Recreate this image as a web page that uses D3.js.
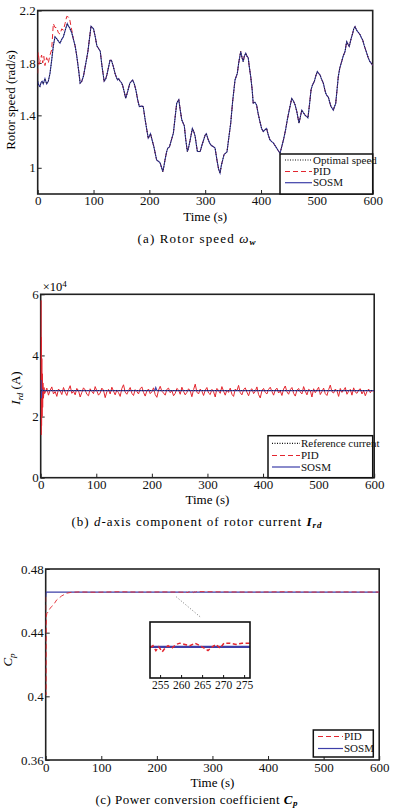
<!DOCTYPE html>
<html><head><meta charset="utf-8">
<script src="https://cdn.jsdelivr.net/npm/d3@7"></script>
<style>
body{margin:0;background:#fff;}
svg{display:block;font-family:"Liberation Serif","Times New Roman",serif;}
</style></head>
<body><svg id="c" width="393" height="810"></svg>
<script>
// ---------- (a) Rotor speed ----------
const speedTicksX = [0,100,200,300,400,500,600];
const speedTicksY = [1,1.4,1.8,2.2];
const speedSOSM = [
[0,1.66],[2,1.63],[4,1.62],[6,1.65],[8,1.66],[10,1.64],[13,1.68],[16,1.64],[19,1.66],[22,1.72],[25,1.82],[28,1.93],[31,2.0],[33,1.99],[35,1.98],[38,1.96],[40,1.95],[43,1.98],[46,2.0],[50,2.06],[53,2.1],[55,2.08],[57,2.07],[59,2.05],[61,2.03],[64,1.98],[67,1.93],[69,1.88],[71,1.82],[74,1.72],[76,1.645],[79,1.66],[82,1.70],[85,1.77],[88,1.84],[90,1.89],[92,1.96],[95.5,2.08],[98,2.07],[100,2.06],[103,2.0],[106,1.93],[109,1.91],[112,1.89],[115,1.78],[119,1.66],[122,1.68],[124,1.71],[127,1.77],[129.5,1.82],[132,1.82],[135,1.78],[138.5,1.72],[141,1.69],[143,1.67],[145,1.68],[147.5,1.66],[150,1.65],[152,1.63],[155,1.58],[157.6,1.53],[161,1.58],[165,1.645],[168,1.66],[170,1.67],[173,1.64],[176,1.59],[179,1.52],[182,1.467],[186,1.47],[189,1.467],[192,1.38],[195,1.30],[198,1.226],[200,1.24],[202,1.26],[205,1.21],[208,1.162],[211,1.10],[213,1.06],[216,1.05],[219,1.04],[222,1.0],[224,0.971],[226,1.01],[228,1.06],[231,1.124],[233,1.15],[236,1.16],[240,1.22],[243,1.264],[246,1.38],[249,1.493],[252.7,1.52],[255,1.45],[258,1.366],[262.6,1.32],[265,1.22],[268,1.124],[270,1.15],[273,1.21],[277,1.30],[280,1.27],[282,1.24],[284,1.18],[286,1.124],[291,1.124],[294,1.17],[297,1.21],[300,1.25],[302,1.26],[305,1.22],[308,1.188],[311,1.17],[315,1.16],[317.7,1.15],[321,1.06],[324,0.99],[326.6,0.96],[329,1.02],[333.7,1.10],[336,1.11],[339,1.12],[342,1.22],[345.7,1.34],[349,1.50],[353.4,1.67],[357.5,1.72],[360,1.80],[363.6,1.887],[366,1.84],[368,1.81],[370,1.85],[372.6,1.875],[375,1.85],[377,1.84],[379,1.77],[381.5,1.696],[384,1.60],[386,1.493],[389,1.50],[392,1.48],[395,1.41],[398,1.353],[401,1.30],[404,1.276],[407,1.29],[410,1.30],[413,1.25],[416,1.213],[419,1.20],[422,1.19],[425,1.17],[428,1.15],[431,1.13],[434,1.11],[437,1.16],[440,1.21],[444,1.29],[447,1.366],[451,1.45],[455,1.53],[458,1.51],[461,1.48],[464,1.43],[468,1.34],[471,1.40],[473,1.44],[476,1.42],[479,1.40],[482,1.39],[484,1.38],[487,1.49],[489.6,1.595],[492,1.63],[495.5,1.66],[498,1.70],[500.8,1.735],[503,1.72],[505.6,1.71],[508,1.68],[511.6,1.645],[514,1.60],[515.8,1.57],[518,1.55],[520.5,1.54],[523,1.50],[525.3,1.467],[528,1.45],[529.5,1.44],[531,1.46],[533.7,1.49],[536,1.59],[538.4,1.696],[541,1.76],[544.4,1.81],[547,1.85],[550.4,1.887],[553.4,1.963],[556,1.94],[558,1.925],[561,1.98],[564.2,2.027],[566,2.06],[568.4,2.078],[570,2.06],[572.6,2.04],[575,2.03],[577.4,2.015],[580,1.99],[582,1.976],[585,1.93],[589.3,1.875],[592,1.84],[595,1.81],[597,1.80],[600,1.78]
];
const speedPIDstart = [
[0,1.72],[0.8,1.88],[2,1.84],[3,1.79],[5,1.83],[7,1.86],[9,1.80],[11,1.85],[13,1.78],[16,1.84],[19,1.80],[22,1.86],[25,1.90],[28,2.10],[31,2.07],[34,2.07],[37,2.03],[40,2.02],[43,2.06],[46,2.05],[49,2.10],[52,2.155],[55,2.15],[57,2.14],[60,2.07],[62,2.03]
];
// ---------- (b) Rotor current (x10^4 A) ----------
const curTicksX = [0,100,200,300,400,500,600];
const curTicksY = [0,2,4,6];
const curRef = 2.85;
const curSOSM = [[0,2.85],[0.6,3.2],[1.2,2.6],[2,2.9],[3,2.85],[205,2.85],[207,2.95],[209,2.85],[600,2.85]];
const curPIDstart = [[0,2.85],[0.4,5.8],[0.8,1.4],[1.2,4.6],[1.6,1.7],[2,3.9],[2.5,2.0],[3,3.4],[3.5,2.3],[4,3.1],[5,2.6],[6,2.95],[7,2.75]];
const curPIDnoise = [
2.78,2.93,2.70,2.86,2.97,2.74,2.82,2.66,2.90,2.84,2.72,2.95,2.80,2.69,2.88,3.01,2.76,2.83,2.71,2.92,
2.85,2.64,2.79,2.94,2.87,2.73,2.68,2.91,2.82,2.75,2.98,2.84,2.70,2.77,2.93,2.86,2.62,2.81,2.89,2.74,
2.96,2.83,2.71,2.87,2.78,2.66,2.92,3.04,2.80,2.73,2.85,2.95,2.76,2.69,2.88,2.82,2.74,2.91,2.97,2.79,
2.67,2.84,2.90,2.75,2.81,2.94,2.72,2.63,2.86,2.99,2.83,2.77,2.70,2.89,2.93,2.78,2.85,2.68,2.76,2.92,
2.87,2.73,2.96,2.82,2.71,2.79,2.91,2.84,2.65,2.88,3.06,2.80,2.74,2.90,2.83,2.69,2.86,2.95,2.77,2.72,
2.89,2.81,2.64,2.92,2.85,2.76,2.98,2.83,2.70,2.87,2.79,2.93,2.73,2.66,2.90,2.84,3.02,2.78,2.71,2.88,
2.94,2.80,2.68,2.86,2.91,2.75,2.83,2.97,2.72,2.61,2.85,2.92,2.79,2.74,2.89,2.96,2.82,2.70,2.87,2.93,
2.77,2.84,2.69,2.90,3.00,2.81,2.73,2.88,2.95,2.76,2.67,2.86,2.92,2.80,2.74,2.98,2.83,2.71,2.89,2.85,
2.64,2.91,2.78,2.87,2.96,2.72,2.82,2.93,2.75,2.69,2.88,3.03,2.81,2.77,2.90,2.84,2.66,2.92,2.79,2.86,
2.95,2.73,2.83,2.89,2.70,2.94,2.80,2.76,2.87,2.91,2.74,2.85,2.68,2.82,2.90,2.78,2.86,2.81
];
const curPIDtimes = curPIDnoise.map((v,i)=>8+i*3);
// ---------- (c) Power coefficient ----------
const cpTicksX = [0,100,200,300,400,500,600];
const cpTicksY = [0.36,0.4,0.44,0.48];
const cpSOSM = [[0,0.4625],[0.6,0.4652],[1.5,0.4655],[600,0.4655]];
const cpPID = [
[0,0.4625],[0.4,0.401],[0.9,0.445],[1.4,0.4505],[2,0.452],[4.7,0.4532],[7.7,0.4553],[13.8,0.4574],[19.8,0.4606],[28.8,0.4631],[37.8,0.4648],[46.8,0.4654],[60,0.4656],[90,0.4654],[130,0.4657],[170,0.4655],[210,0.4656],[240,0.4655],
[252.6,0.4654],[253.3,0.4656],[254.0,0.4652],[254.7,0.4655],[255.5,0.4651],[256.2,0.4654],[256.9,0.4656],[257.8,0.4654],[258.8,0.4657],[259.7,0.4658],[260.9,0.4657],[262.1,0.4656],[263.3,0.4658],[264.5,0.4656],[265.5,0.4654],[266.4,0.4652],[267.4,0.4655],[268.3,0.4657],[269.3,0.4654],[270.2,0.4658],[271.6,0.4658],[273.1,0.4657],[274.5,0.4658],[275.9,0.4658],[277,0.4658],
[320,0.4656],[380,0.4655],[430,0.4657],[480,0.4655],[540,0.4656],[600,0.4655]
];
const insetTicks = [255,260,265,270,275];

const RED = "#e3262f", BLUE = "#3d3fa8";
const svg = d3.select("#c");

function frame(opts){
  const g = svg.append("g").attr("transform",`translate(${opts.left},${opts.top})`);
  const x = d3.scaleLinear().domain(opts.xd).range([0,opts.w]);
  const y = d3.scaleLinear().domain(opts.yd).range([opts.h,0]);
  const cp = "clip"+opts.id;
  svg.append("clipPath").attr("id",cp).append("rect").attr("x",opts.left).attr("y",opts.top).attr("width",opts.w).attr("height",opts.h);
  const plot = svg.append("g").attr("clip-path",`url(#${cp})`).append("g").attr("transform",`translate(${opts.left},${opts.top})`);
  const ax = g.append("g").attr("transform",`translate(0,${opts.h})`)
    .call(d3.axisBottom(x).tickValues(opts.tx).tickSize(-4).tickPadding(opts.xpad||2).tickFormat(d=>d));
  const ay = g.append("g").call(d3.axisLeft(y).tickValues(opts.ty).tickSize(-4).tickPadding(2).tickFormat(opts.fy||(d=>d)));
  [ax,ay].forEach(a=>{a.select(".domain").remove();a.selectAll("line").attr("stroke","#222");a.selectAll("text").attr("font-size",13).attr("font-family","Liberation Serif").attr("fill","#111");});
  ax.selectAll("text").attr("dy","0.71em");
  return {g,plot,x,y};
}
function box(o){
  o.g.append("rect").attr("x",0).attr("y",0).attr("width",o.x.range()[1]).attr("height",o.y.range()[0]).attr("fill","none").attr("stroke","#222").attr("stroke-width",1.6);
}
function legend(x0,y0,w,h, items){
  const lg = svg.append("g");
  lg.append("rect").attr("x",x0).attr("y",y0).attr("width",w).attr("height",h).attr("fill","#fff").attr("stroke","#111").attr("stroke-width",1.5);
  items.forEach(it=>{
    lg.append("line").attr("x1",it.lx1).attr("x2",it.lx2).attr("y1",it.y).attr("y2",it.y).attr("stroke",it.c).attr("stroke-width",it.sw||1.2).attr("stroke-dasharray",it.da||null);
    lg.append("text").attr("x",it.lx2+1).attr("y",it.y+3.5).attr("font-size",11).attr("fill","#111").text(it.t);
  });
}
function caption(y,len){
  const t = svg.append("text").attr("x",196.5).attr("y",y).attr("text-anchor","middle").attr("font-size",13);
  if(len) t.attr("textLength",len).attr("lengthAdjust","spacing");
  return t;
}

// ===== Panel (a)
{
  const o = frame({id:"a",left:37.7,top:10.5,w:335,h:183.5,xd:[0,600],yd:[0.8,2.2],tx:speedTicksX,ty:speedTicksY});
  const line = d3.line().x(d=>o.x(d[0])).y(d=>o.y(d[1]));
  const pid = speedPIDstart.concat(speedSOSM.filter(d=>d[0]>62));
  o.plot.append("path").attr("d",line(pid)).attr("fill","none").attr("stroke",RED).attr("stroke-width",1).attr("stroke-dasharray","5,3");
  o.plot.append("path").attr("d",line(speedSOSM)).attr("fill","none").attr("stroke",BLUE).attr("stroke-width",1.1);
  o.plot.append("path").attr("d",line(speedSOSM)).attr("fill","none").attr("stroke","#111").attr("stroke-width",0.9).attr("stroke-dasharray","1,1.6");
  box(o);
  o.g.append("text").attr("x",o.x(300)).attr("y",210.5).attr("text-anchor","middle").attr("font-size",13).text("Time (s)");
  svg.append("text").attr("transform","translate(15,100) rotate(-90)").attr("text-anchor","middle").attr("font-size",13).text("Rotor speed (rad/s)");
  legend(280,154,92.7,40,[
    {t:"Optimal speed",y:160,lx1:285,lx2:312,c:"#111",da:"1,1.5"},
    {t:"PID",y:171.5,lx1:285,lx2:312,c:RED,da:"5,3"},
    {t:"SOSM",y:182.7,lx1:285,lx2:312,c:BLUE}
  ]);
  const cap = caption(243,118);
  cap.append("tspan").text("(a) Rotor speed ");
  cap.append("tspan").attr("font-style","italic").text("ω");
  cap.append("tspan").attr("font-style","italic").attr("font-weight","bold").attr("font-size",9).attr("dy",2).text("w");
}
// ===== Panel (b)
{
  const o = frame({id:"b",left:40.7,top:294.3,w:333.5,h:183.4,xd:[0,600],yd:[0,6],tx:curTicksX,ty:curTicksY});
  const line = d3.line().x(d=>o.x(d[0])).y(d=>o.y(d[1]));
  const pid = curPIDstart.concat(curPIDnoise.map((v,i)=>[curPIDtimes[i],v]));
  o.plot.append("path").attr("d",line(pid)).attr("fill","none").attr("stroke",RED).attr("stroke-width",1);
  o.plot.append("path").attr("d",line(curSOSM)).attr("fill","none").attr("stroke",BLUE).attr("stroke-width",1.2);
  o.plot.append("path").attr("d",line([[0,curRef],[600,curRef]])).attr("fill","none").attr("stroke","#111").attr("stroke-width",0.8).attr("stroke-dasharray","1,1.6");
  box(o);
  const m = o.g.append("text").attr("x",2).attr("y",-3).attr("font-size",12.5);
  m.append("tspan").text("×10");
  m.append("tspan").attr("font-size",9).attr("dy",-4).text("4");
  o.g.append("text").attr("x",o.x(300)).attr("y",210).attr("text-anchor","middle").attr("font-size",13).text("Time (s)");
  const yl = svg.append("text").attr("transform","translate(20,388) rotate(-90)").attr("text-anchor","middle").attr("font-size",13);
  yl.append("tspan").attr("font-style","italic").text("I");
  yl.append("tspan").attr("font-style","italic").attr("font-size",9).attr("dy",3).text("rd");
  yl.append("tspan").attr("dy",-3).text(" (A)");
  legend(268,435.7,104.7,42,[
    {t:"Reference current",y:443.3,lx1:272,lx2:300,c:"#111",da:"1,1.5"},
    {t:"PID",y:455.5,lx1:272,lx2:300,c:RED,da:"5,3"},
    {t:"SOSM",y:467,lx1:272,lx2:300,c:BLUE}
  ]);
  const cap = caption(526,250);
  cap.append("tspan").text("(b) ");
  cap.append("tspan").attr("font-style","italic").text("d");
  cap.append("tspan").text("-axis component of rotor current ");
  cap.append("tspan").attr("font-style","italic").attr("font-weight","bold").text("I");
  cap.append("tspan").attr("font-style","italic").attr("font-weight","bold").attr("font-size",9).attr("dy",2).text("rd");
}
// ===== Panel (c)
{
  const o = frame({id:"c",left:45.7,top:569,w:333.5,h:191,xd:[0,600],yd:[0.36,0.48],tx:cpTicksX,ty:cpTicksY,fy:d3.format(".2~f"),xpad:3});
  const line = d3.line().x(d=>o.x(d[0])).y(d=>o.y(d[1]));
  o.plot.append("path").attr("d",line(cpSOSM)).attr("fill","none").attr("stroke",BLUE).attr("stroke-width",1.2);
  o.plot.append("path").attr("d",line(cpPID)).attr("fill","none").attr("stroke",RED).attr("stroke-width",1).attr("stroke-dasharray","5,3").attr("stroke-opacity",0.9);
  box(o);
  o.g.append("line").attr("x1",o.x(235)).attr("y1",o.y(0.4625)).attr("x2",o.x(278)).attr("y2",o.y(0.4499))
    .attr("stroke","#777").attr("stroke-width",1).attr("stroke-dasharray","1,2");
  // inset
  const ix = d3.scaleLinear().domain([252.6,276.4]).range([150,250]);
  const iy = d3.scaleLinear().domain([0.4630,0.4675]).range([678,622]);
  svg.append("clipPath").attr("id","clipi").append("rect").attr("x",150).attr("y",622).attr("width",100).attr("height",56);
  svg.append("rect").attr("x",150).attr("y",622).attr("width",100).attr("height",56).attr("fill","#fff");
  const il = d3.line().x(d=>ix(d[0])).y(d=>iy(d[1]));
  const ip = svg.append("g").attr("clip-path","url(#clipi)");
  ip.append("path").attr("d",il(cpSOSM)).attr("fill","none").attr("stroke",BLUE).attr("stroke-width",2.4);
  ip.append("path").attr("d",il(cpPID)).attr("fill","none").attr("stroke",RED).attr("stroke-width",1.5).attr("stroke-dasharray","4,2.5");
  const iax = svg.append("g").attr("transform","translate(0,678)").call(d3.axisBottom(ix).tickValues(insetTicks).tickSize(-3).tickPadding(3));
  iax.select(".domain").remove();
  iax.selectAll("line").attr("stroke","#111");
  iax.selectAll("text").attr("font-size",11.5).attr("font-family","Liberation Serif").attr("fill","#111");
  svg.append("rect").attr("x",150).attr("y",622).attr("width",100).attr("height",56).attr("fill","none").attr("stroke","#111").attr("stroke-width",1.6);
  o.g.append("text").attr("x",o.x(300)).attr("y",217.5).attr("text-anchor","middle").attr("font-size",13).text("Time (s)");
  const yl = svg.append("text").attr("transform","translate(12,660) rotate(-90)").attr("text-anchor","middle").attr("font-size",13);
  yl.append("tspan").attr("font-style","italic").text("C");
  yl.append("tspan").attr("font-style","italic").attr("font-size",9).attr("dy",3).text("p");
  legend(313.3,730,60,27,[
    {t:"PID",y:736.5,lx1:318,lx2:343,c:RED,da:"5,3"},
    {t:"SOSM",y:748.5,lx1:318,lx2:343,c:BLUE}
  ]);
  const cap = caption(804,202);
  cap.append("tspan").text("(c) Power conversion coefficient ");
  cap.append("tspan").attr("font-style","italic").attr("font-weight","bold").text("C");
  cap.append("tspan").attr("font-style","italic").attr("font-weight","bold").attr("font-size",9).attr("dy",2).text("p");
}
</script></body></html>
